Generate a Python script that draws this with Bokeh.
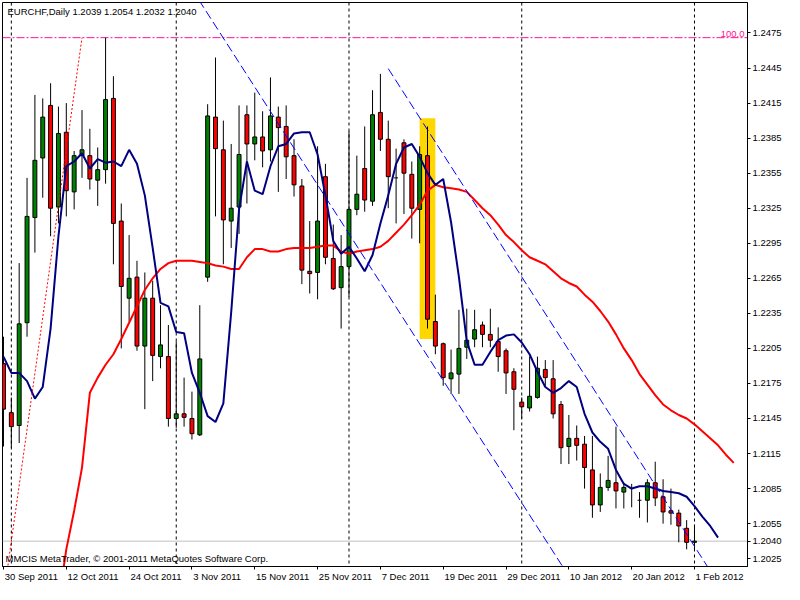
from bokeh.plotting import figure
from bokeh.models import Range1d, FixedTicker, PrintfTickFormatter, Span, Label, LinearAxis
from bokeh.embed import file_html
from bokeh.resources import INLINE

# ---------------- data ----------------
title_text = "EURCHF,Daily  1.2039 1.2054 1.2032 1.2040"
copyright_text = "MMCIS MetaTrader, \u00a9 2001-2011 MetaQuotes Software Corp."

date_ticks = [0, 8, 16, 24, 32, 40, 48, 56, 64, 72, 80, 88]
date_labels = ["30 Sep 2011", "12 Oct 2011", "24 Oct 2011", "3 Nov 2011", "15 Nov 2011",
               "25 Nov 2011", "7 Dec 2011", "19 Dec 2011", "29 Dec 2011", "10 Jan 2012",
               "20 Jan 2012", "1 Feb 2012"]
month_separators = [1, 22, 44, 66, 88]
price_ticks = [1.2025, 1.2055, 1.2085, 1.2115, 1.2145, 1.2175, 1.2205, 1.2235, 1.2265,
               1.2295, 1.2325, 1.2355, 1.2385, 1.2415, 1.2445, 1.2475]

opens = [1.2192, 1.2150, 1.2139, 1.2227, 1.2317, 1.2368, 1.2413, 1.2326, 1.2390, 1.2339,
         1.2370, 1.2370, 1.2349, 1.2358, 1.2419, 1.2314, 1.2248, 1.2266, 1.2207, 1.2248,
         1.2198, 1.2198, 1.2145, 1.2149, 1.2145, 1.2131, 1.2266, 1.2403, 1.2375, 1.2314,
         1.2326, 1.2405, 1.2380, 1.2386, 1.2375, 1.2403, 1.2395, 1.2370, 1.2344, 1.2271,
         1.2270, 1.2352, 1.2282, 1.2257, 1.2275, 1.2324, 1.2359, 1.2331, 1.2407, 1.2384,
         1.2351, 1.2381, 1.2354, 1.2324, 1.2370, 1.2228, 1.2209, 1.2179, 1.2183, 1.2206,
         1.2213, 1.2225, 1.2217, 1.2211, 1.2203, 1.2185, 1.2159, 1.2154, 1.2163, 1.2187,
         1.2179, 1.2157, 1.2121, 1.2128, 1.2123, 1.2101, 1.2071, 1.2086, 1.2090, 1.2082,
         1.2085, 1.2075, 1.2075, 1.2090, 1.2078, 1.2066, 1.2064, 1.2051, 1.2039]
highs = [1.2215, 1.2163, 1.2278, 1.2351, 1.2422, 1.2419, 1.2432, 1.2412, 1.2415, 1.2374,
         1.2409, 1.2393, 1.2377, 1.2471, 1.2438, 1.2329, 1.2302, 1.2280, 1.2270, 1.2263,
         1.2242, 1.2225, 1.2211, 1.2180, 1.2168, 1.2242, 1.2414, 1.2454, 1.2400, 1.2380,
         1.2413, 1.2413, 1.2424, 1.2408, 1.2437, 1.2412, 1.2413, 1.2384, 1.2350, 1.2314,
         1.2378, 1.2363, 1.2311, 1.2302, 1.2391, 1.2370, 1.2395, 1.2426, 1.2440, 1.2400,
         1.2376, 1.2384, 1.2365, 1.2378, 1.2395, 1.2251, 1.2210, 1.2204, 1.2238, 1.2239,
         1.2238, 1.2228, 1.2239, 1.2223, 1.2205, 1.2188, 1.2163, 1.2198, 1.2198, 1.2195,
         1.2195, 1.2160, 1.2148, 1.2139, 1.2130, 1.2130, 1.2098, 1.2113, 1.2138, 1.2090,
         1.2089, 1.2082, 1.2093, 1.2108, 1.2093, 1.2085, 1.2067, 1.2058, 1.2054]
lows = [1.2121, 1.2120, 1.2124, 1.2215, 1.2287, 1.2334, 1.2301, 1.2312, 1.2318, 1.2324,
        1.2351, 1.2341, 1.2327, 1.2346, 1.2277, 1.2205, 1.2228, 1.2203, 1.2153, 1.2177,
        1.2188, 1.2138, 1.2137, 1.2138, 1.2127, 1.2130, 1.2262, 1.2318, 1.2277, 1.2291,
        1.2303, 1.2329, 1.2366, 1.2360, 1.2365, 1.2339, 1.2350, 1.2335, 1.2260, 1.2252,
        1.2247, 1.2277, 1.2255, 1.2222, 1.2249, 1.2319, 1.2322, 1.2327, 1.2374, 1.2325,
        1.2312, 1.2320, 1.2299, 1.2295, 1.2222, 1.2200, 1.2173, 1.2166, 1.2166, 1.2196,
        1.2206, 1.2206, 1.2206, 1.2185, 1.2166, 1.2135, 1.2145, 1.2151, 1.2162, 1.2173,
        1.2145, 1.2106, 1.2106, 1.2109, 1.2085, 1.2060, 1.2065, 1.2083, 1.2068, 1.2068,
        1.2069, 1.2060, 1.2056, 1.2070, 1.2055, 1.2054, 1.2039, 1.2033, 1.2032]
closes = [1.2153, 1.2138, 1.2226, 1.2318, 1.2366, 1.2403, 1.2325, 1.2389, 1.2340, 1.2370,
          1.2375, 1.2350, 1.2358, 1.2418, 1.2312, 1.2258, 1.2265, 1.2207, 1.2248, 1.2199,
          1.2208, 1.2145, 1.2149, 1.2146, 1.2132, 1.2196, 1.2404, 1.2376, 1.2315, 1.2325,
          1.2371, 1.2380, 1.2386, 1.2374, 1.2404, 1.2394, 1.2369, 1.2345, 1.2272, 1.2269,
          1.2314, 1.2283, 1.2256, 1.2275, 1.2324, 1.2337, 1.2332, 1.2405, 1.2384, 1.2352,
          1.2351, 1.2355, 1.2325, 1.2371, 1.2230, 1.2207, 1.2180, 1.2184, 1.2205, 1.2212,
          1.2221, 1.2217, 1.2212, 1.2198, 1.2184, 1.2170, 1.2155, 1.2164, 1.2188, 1.2180,
          1.2149, 1.2120, 1.2128, 1.2122, 1.2103, 1.2071, 1.2086, 1.2092, 1.2083, 1.2086,
          1.2085, 1.2075, 1.2090, 1.2077, 1.2065, 1.2064, 1.2053, 1.2039, 1.2040]

# fast moving average (navy), starting at bar 0
ma_fast = [1.2198, 1.2184, 1.2184, 1.2177, 1.2162, 1.2172, 1.2222, 1.2301, 1.2361, 1.2365,
           1.2372, 1.2359, 1.2367, 1.2364, 1.2365, 1.2361, 1.2375, 1.2363, 1.2336, 1.2291,
           1.2244, 1.2241, 1.2219, 1.2218, 1.2184, 1.2167, 1.2147, 1.2142, 1.2158, 1.2236,
           1.2324, 1.2365, 1.2340, 1.2337, 1.2361, 1.2378, 1.2380, 1.2389, 1.2390, 1.2390,
           1.2371, 1.2336, 1.2297, 1.2286, 1.2292, 1.2282, 1.2271, 1.2285, 1.2312, 1.2336,
           1.2363, 1.2377, 1.2380, 1.2369, 1.2355, 1.2345, 1.2350, 1.2313, 1.2266, 1.2211,
           1.2191, 1.2191, 1.2202, 1.2212, 1.2216, 1.2217, 1.2210, 1.2200, 1.2185, 1.2172,
           1.2167, 1.2171, 1.2177, 1.2172, 1.2149, 1.2133, 1.2125, 1.2119, 1.2101, 1.2089,
           1.2085, 1.2087, 1.2087, 1.2085, 1.2083, 1.2082, 1.2081, 1.2078, 1.2070, 1.2061,
           1.2053, 1.2043]
ma_fast_start = 0

# slow moving average (red), starting at bar 7
ma_slow = [1.1987, 1.2033, 1.2066, 1.2103, 1.2167, 1.2180, 1.2191, 1.2200, 1.2213, 1.2227,
           1.2241, 1.2255, 1.2265, 1.2273, 1.2278, 1.2280, 1.2280, 1.2280, 1.2279, 1.2278,
           1.2276, 1.2275, 1.2273, 1.2273, 1.2283, 1.2290, 1.2290, 1.2288, 1.2288, 1.2290,
           1.2291, 1.2291, 1.2291, 1.2292, 1.2293, 1.2293, 1.2288, 1.2286, 1.2288, 1.2289,
           1.2290, 1.2292, 1.2297, 1.2304, 1.2311, 1.2319, 1.2328, 1.2340, 1.2345, 1.2343,
           1.2342, 1.2341, 1.2339, 1.2332, 1.2325, 1.2319, 1.2311, 1.2302, 1.2296, 1.2289,
           1.2283, 1.2280, 1.2277, 1.2271, 1.2265, 1.2261, 1.2258, 1.2251, 1.2245, 1.2237,
           1.2228, 1.2217, 1.2205, 1.2195, 1.2183, 1.2174, 1.2165, 1.2157, 1.2152, 1.2148,
           1.2145, 1.2140, 1.2134, 1.2128, 1.2122, 1.2114, 1.2107]
ma_slow_start = 7

# drawn objects
fibo_level = 1.2471
fibo_label = "100.0"
fibo_bars = [0, 10]
fibo_prices = [1.1992, 1.2471]
channel1_bars = [24, 72]
channel1_prices = [1.25125, 1.20100]
channel2_bars = [49, 91]
channel2_prices = [1.24445, 1.20041]
box_bars = [53, 55]
box_prices = [1.2213, 1.2402]
bid_price = 1.2040
bid_label = "1.2040"

x_start, x_end = -0.125, 94.75
y_start, y_end = 1.20183, 1.25011

# ---------------- figure ----------------
FONT = "Liberation Sans"
FSPX = 9.5
FS = f"{FSPX}px"

p = figure(width=784, height=584, x_range=Range1d(x_start, x_end),
           y_range=Range1d(y_start, y_end), y_axis_location="right",
           output_backend="svg", toolbar_location=None,
           min_border_left=2, min_border_top=2, min_border_right=0, min_border_bottom=0)
p.grid.visible = False
p.outline_line_color = "black"
p.outline_line_width = 1
p.background_fill_color = "white"
p.border_fill_color = "white"

# background rectangle
p.quad(left=[box_bars[0]], right=[box_bars[1]], bottom=[box_prices[0]], top=[box_prices[1]],
       fill_color="#FFD700", line_color=None)

# period separators, bid line, fibo level
for s in month_separators:
    p.add_layout(Span(location=s, dimension="height", line_color="black",
                      line_dash="3 3", line_width=1, level="underlay"))
p.add_layout(Span(location=bid_price, dimension="width", line_color="#C0C0C0",
                  line_width=1, level="underlay"))
p.add_layout(Span(location=fibo_level, dimension="width", line_color="#FF1493",
                  line_dash="8 2 2 2", line_width=1, level="underlay"))

# candles
idx = list(range(len(opens)))
p.segment(x0=idx, y0=lows, x1=idx, y1=highs, line_color="black", line_width=1)
up = [i for i in idx if closes[i] > opens[i]]
dn = [i for i in idx if closes[i] < opens[i]]
dj = [i for i in idx if closes[i] == opens[i]]
BW = 0.5
p.vbar(x=up, width=BW, bottom=[opens[i] for i in up], top=[closes[i] for i in up],
       fill_color="#008000", line_color="black", line_width=1)
p.vbar(x=dn, width=BW, bottom=[closes[i] for i in dn], top=[opens[i] for i in dn],
       fill_color="#FF0000", line_color="black", line_width=1)
p.segment(x0=[i - BW / 2 for i in dj], x1=[i + BW / 2 for i in dj],
          y0=[opens[i] for i in dj], y1=[opens[i] for i in dj], line_color="black", line_width=1)

# moving averages
p.line(list(range(ma_slow_start, ma_slow_start + len(ma_slow))), ma_slow,
       line_color="#FF0000", line_width=2)
p.line(list(range(ma_fast_start, ma_fast_start + len(ma_fast))), ma_fast,
       line_color="#000080", line_width=2)

# trend / channel lines
p.line(fibo_bars, fibo_prices, line_color="#FF0000", line_dash="2 2", line_width=1)
p.line(channel1_bars, channel1_prices, line_color="#0000FF", line_dash="9 4", line_width=1)
p.line(channel2_bars, channel2_prices, line_color="#0000FF", line_dash="9 4", line_width=1)

# texts
p.add_layout(Label(x=x_start, y=y_end, x_offset=5, y_offset=-3, text=title_text,
                   text_baseline="top", text_font=FONT, text_font_size=FS, text_color="black"))
p.add_layout(Label(x=x_start, y=y_start, x_offset=3, y_offset=3, text=copyright_text,
                   text_baseline="bottom", text_font=FONT, text_font_size=FS, text_color="black"))
p.add_layout(Label(x=x_end, y=fibo_level, x_offset=-3, y_offset=1, text=fibo_label,
                   text_align="right", text_baseline="bottom", text_font=FONT,
                   text_font_size=FS, text_color="#FF1493"))

# ---------------- axes ----------------
# right price axis (with the current bid price as an extra label)
p.yaxis.ticker = FixedTicker(ticks=sorted(price_ticks + [bid_price]))
p.yaxis.formatter = PrintfTickFormatter(format="%.4f")
p.yaxis.major_label_overrides = {bid_price: bid_label}

# bottom axis 1: tick marks only, at the bar positions of the dates
p.xaxis.ticker = FixedTicker(ticks=date_ticks)
p.xaxis.major_label_text_color = None
p.xaxis.major_label_text_font_size = "1px"
p.xaxis.major_label_standoff = 0

for ax in (p.xaxis, p.yaxis):
    ax.axis_line_color = "black"
    ax.major_tick_line_color = "black"
    ax.major_tick_in = 0
    ax.major_tick_out = 3
    ax.minor_tick_line_color = None
p.yaxis.major_label_text_font = FONT
p.yaxis.major_label_text_font_size = FS
p.yaxis.major_label_text_color = "black"
p.yaxis.major_label_standoff = 2

# bottom axis 2: date labels, left-aligned on their tick (MetaTrader style)
CHAR_W = {" ": 0.278, "S": 0.667, "e": 0.556, "p": 0.556, "O": 0.778, "c": 0.5,
          "t": 0.278, "N": 0.722, "o": 0.556, "v": 0.5, "D": 0.722, "J": 0.5,
          "a": 0.556, "n": 0.556, "F": 0.611, "b": 0.556}
FRAME_W = 784 - 2 - 35
px_per_bar = FRAME_W / (x_end - x_start)


def text_width(s):
    return sum(CHAR_W.get(ch, 0.556) for ch in s) * FSPX


label_pos = [round(t + (text_width(lab) / 2 + 1) / px_per_bar, 3)
             for t, lab in zip(date_ticks, date_labels)]
label_axis = LinearAxis(ticker=FixedTicker(ticks=label_pos),
                        major_label_overrides={pos: lab for pos, lab in zip(label_pos, date_labels)},
                        axis_line_color=None, major_tick_line_color=None,
                        minor_tick_line_color=None, major_tick_in=0, major_tick_out=0,
                        major_label_standoff=1, major_label_text_font=FONT,
                        major_label_text_font_size=FS, major_label_text_color="black")
p.add_layout(label_axis, "below")

open("out.html", "w").write(file_html(p, INLINE))
